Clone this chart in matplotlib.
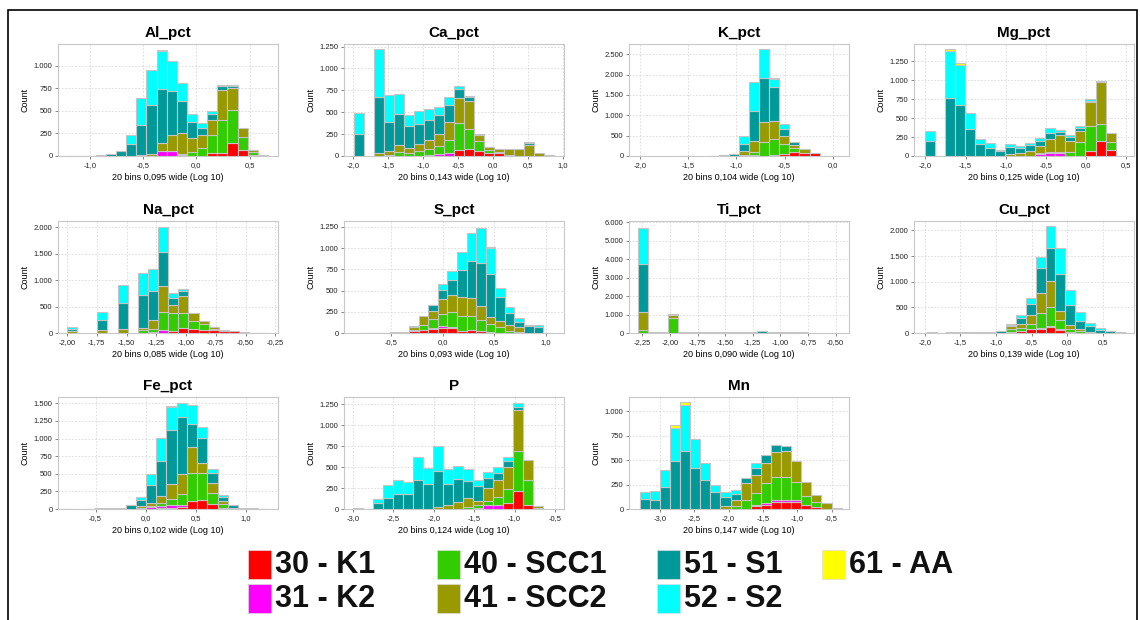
import matplotlib
matplotlib.use("Agg")
import matplotlib.pyplot as plt
from matplotlib.patches import Rectangle
import numpy as np

plt.rcParams["font.family"] = ["Liberation Sans", "DejaVu Sans"]

classes = ["30 - K1", "31 - K2", "40 - SCC1", "41 - SCC2", "51 - S1", "52 - S2", "61 - AA"]
class_keys = ["k1", "k2", "scc1", "scc2", "s1", "s2", "aa"]
class_colors = ["#ff0000", "#ff00ff", "#33cc00", "#999900", "#009999", "#00ffff", "#ffff00"]

panel_names = ["Al_pct", "Ca_pct", "K_pct", "Mg_pct", "Na_pct", "S_pct",
               "Ti_pct", "Cu_pct", "Fe_pct", "P", "Mn"]
bin_start = [-1.228, -1.99, -2.01, -2.008, -2.0, -0.79, -2.289, -1.972, -0.812, -3.0, -3.293]
bin_width = [0.095, 0.143, 0.104, 0.125, 0.085, 0.093, 0.090, 0.139, 0.102, 0.124, 0.147]
width_labels = ["0,095", "0,143", "0,104", "0,125", "0,085", "0,093", "0,090", "0,139", "0,102", "0,124", "0,147"]

x_ticks = [
    [-1.0, -0.5, 0.0, 0.5],
    [-2.0, -1.5, -1.0, -0.5, 0.0, 0.5, 1.0],
    [-2.0, -1.5, -1.0, -0.5, 0.0],
    [-2.0, -1.5, -1.0, -0.5, 0.0, 0.5],
    [-2.0, -1.75, -1.5, -1.25, -1.0, -0.75, -0.5, -0.25],
    [-0.5, 0.0, 0.5, 1.0],
    [-2.25, -2.0, -1.75, -1.5, -1.25, -1.0, -0.75, -0.5],
    [-2.0, -1.5, -1.0, -0.5, 0.0, 0.5],
    [-0.5, 0.0, 0.5, 1.0],
    [-3.0, -2.5, -2.0, -1.5, -1.0, -0.5],
    [-3.0, -2.5, -2.0, -1.5, -1.0, -0.5],
]
x_decimals = [1, 1, 1, 1, 2, 1, 2, 1, 1, 1, 1]
x_limits = [(-1.297, 0.766), (-2.13, 1.02), (-2.111, 0.167), (-2.142, 0.596),
            (-2.076, -0.227), (-0.956, 1.179), (-2.371, -0.379), (-2.150, 0.937),
            (-0.876, 1.322), (-3.112, -0.388), (-3.449, -0.246)]
y_max = [1240, 1280, 2750, 1480, 2115, 1320, 6080, 2185, 1590, 1335, 1145]
y_step = [250, 250, 500, 250, 500, 250, 1000, 500, 250, 250, 250]

al_counts = {
    "k1":   [0, 0, 0, 0, 0, 0, 0, 0, 0, 0, 0, 0, 0, 0, 30, 30, 145, 65, 15, 0],
    "k2":   [0, 0, 0, 0, 0, 0, 0, 0, 5, 50, 55, 15, 0, 0, 0, 0, 0, 0, 0, 0],
    "scc1": [0, 0, 0, 0, 0, 0, 0, 0, 0, 0, 5, 10, 45, 90, 200, 370, 365, 150, 25, 0],
    "scc2": [0, 0, 0, 0, 0, 0, 0, 10, 20, 95, 175, 230, 150, 140, 165, 330, 240, 100, 25, 8],
    "s1":   [3, 3, 5, 8, 18, 50, 130, 330, 540, 600, 490, 350, 185, 75, 75, 40, 30, 0, 0, 0],
    "s2":   [0, 0, 0, 0, 0, 5, 100, 300, 390, 415, 325, 200, 85, 65, 30, 20, 5, 0, 0, 0],
    "aa":   [0, 0, 0, 0, 0, 0, 0, 0, 0, 15, 0, 0, 0, 0, 0, 0, 0, 0, 0, 0],
}
ca_counts = {
    "k1":   [0, 0, 0, 0, 0, 0, 0, 0, 0, 5, 65, 85, 55, 35, 40, 10, 0, 0, 0, 0],
    "k2":   [0, 0, 0, 0, 0, 0, 0, 10, 25, 30, 0, 0, 0, 0, 0, 0, 0, 0, 0, 0],
    "scc1": [0, 0, 0, 15, 50, 35, 55, 65, 95, 150, 315, 225, 115, 30, 10, 0, 0, 0, 0, 0],
    "scc2": [0, 0, 35, 45, 80, 60, 80, 110, 130, 200, 280, 320, 75, 35, 25, 70, 85, 125, 40, 10],
    "s1":   [250, 0, 640, 330, 355, 250, 230, 230, 215, 195, 110, 50, 5, 5, 0, 0, 0, 20, 0, 0],
    "s2":   [240, 0, 550, 310, 225, 125, 145, 120, 95, 95, 35, 5, 0, 0, 0, 0, 0, 10, 0, 0],
    "aa":   [0, 0, 0, 0, 0, 0, 0, 0, 0, 0, 0, 0, 0, 0, 0, 0, 0, 0, 0, 0],
}
k_counts = {
    "k1":   [0, 0, 0, 0, 0, 0, 0, 0, 0, 0, 0, 0, 0, 20, 40, 100, 70, 80, 10, 5],
    "k2":   [0, 0, 0, 0, 0, 0, 0, 0, 0, 0, 0, 30, 0, 0, 0, 0, 0, 0, 0, 0],
    "scc1": [0, 0, 0, 0, 0, 0, 0, 0, 0, 0, 30, 65, 355, 395, 250, 85, 0, 0, 0, 0],
    "scc2": [0, 0, 0, 0, 0, 0, 0, 0, 0, 0, 90, 265, 475, 455, 210, 85, 110, 0, 0, 0],
    "s1":   [0, 0, 0, 0, 5, 0, 0, 5, 15, 40, 185, 745, 1080, 830, 165, 70, 0, 0, 0, 0],
    "s2":   [0, 0, 0, 0, 0, 0, 0, 0, 0, 0, 190, 720, 720, 180, 115, 15, 0, 0, 0, 0],
    "aa":   [0, 0, 0, 0, 0, 0, 0, 0, 0, 0, 0, 0, 0, 30, 0, 0, 0, 0, 0, 0],
}
mg_counts = {
    "k1":   [0, 0, 0, 0, 0, 0, 0, 0, 0, 0, 0, 0, 0, 0, 0, 0, 67, 200, 76, 0],
    "k2":   [0, 0, 0, 0, 0, 0, 0, 0, 0, 0, 0, 20, 40, 35, 0, 0, 0, 0, 0, 0],
    "scc1": [0, 0, 0, 0, 0, 0, 0, 0, 0, 0, 0, 25, 15, 15, 55, 187, 335, 224, 103, 0],
    "scc2": [0, 0, 0, 0, 0, 0, 0, 0, 30, 35, 65, 90, 170, 232, 145, 148, 312, 560, 125, 5],
    "s1":   [200, 0, 768, 670, 357, 156, 110, 67, 85, 75, 75, 65, 75, 35, 55, 30, 10, 10, 0, 0],
    "s2":   [135, 0, 616, 535, 214, 67, 60, 13, 45, 25, 35, 40, 65, 30, 20, 37, 26, 0, 0, 0],
    "aa":   [0, 0, 30, 20, 0, 0, 0, 0, 0, 0, 0, 0, 0, 0, 0, 0, 0, 0, 0, 0],
}
na_counts = {
    "k1":   [0, 0, 0, 0, 0, 0, 0, 0, 0, 5, 40, 95, 80, 60, 50, 45, 40, 10, 5, 3],
    "k2":   [0, 0, 0, 0, 0, 0, 0, 0, 10, 50, 0, 0, 0, 0, 0, 0, 0, 0, 0, 0],
    "scc1": [0, 0, 0, 0, 0, 0, 0, 50, 70, 335, 340, 290, 150, 105, 30, 0, 0, 0, 0, 0],
    "scc2": [40, 0, 0, 50, 0, 80, 0, 50, 160, 490, 150, 305, 140, 65, 35, 5, 0, 0, 0, 0],
    "s1":   [40, 0, 0, 190, 0, 480, 0, 610, 555, 650, 130, 95, 0, 0, 0, 0, 0, 0, 0, 0],
    "s2":   [35, 0, 0, 150, 0, 340, 0, 430, 420, 470, 95, 45, 0, 0, 0, 0, 0, 0, 0, 0],
    "aa":   [0, 0, 0, 0, 0, 0, 0, 0, 0, 0, 0, 0, 0, 0, 0, 0, 0, 0, 0, 0],
}
s_counts = {
    "k1":   [0, 0, 0, 0, 0, 20, 35, 45, 60, 55, 20, 35, 20, 15, 5, 0, 0, 0, 0, 0],
    "k2":   [0, 0, 0, 0, 0, 0, 5, 15, 20, 20, 0, 5, 5, 0, 0, 0, 0, 0, 0, 0],
    "scc1": [0, 0, 0, 0, 0, 10, 50, 100, 145, 170, 180, 160, 130, 90, 60, 20, 10, 0, 0, 0],
    "scc2": [0, 0, 0, 0, 0, 40, 105, 100, 175, 200, 226, 210, 160, 87, 80, 80, 55, 0, 0, 0],
    "s1":   [3, 3, 5, 8, 15, 10, 0, 65, 110, 185, 322, 435, 515, 505, 280, 130, 68, 80, 70, 5],
    "s2":   [0, 0, 0, 0, 0, 0, 0, 10, 65, 105, 202, 338, 410, 300, 100, 80, 47, 10, 30, 0],
    "aa":   [0, 0, 0, 0, 0, 0, 0, 0, 0, 0, 0, 0, 0, 15, 0, 0, 0, 0, 0, 0],
}
ti_counts = {
    "k1":   [0, 0, 0, 0, 0, 0, 0, 0, 0, 0, 0, 0, 0, 0, 0, 0, 0, 0, 0, 0],
    "k2":   [0, 0, 0, 0, 0, 0, 0, 0, 0, 0, 0, 0, 0, 0, 0, 0, 0, 0, 0, 0],
    "scc1": [180, 0, 0, 820, 0, 0, 0, 0, 0, 0, 0, 0, 0, 0, 0, 0, 0, 0, 0, 0],
    "scc2": [950, 0, 0, 180, 50, 0, 0, 0, 0, 0, 0, 0, 0, 0, 0, 0, 0, 0, 0, 0],
    "s1":   [2610, 60, 80, 30, 0, 50, 80, 60, 40, 80, 40, 60, 100, 60, 60, 40, 30, 0, 0, 0],
    "s2":   [1950, 0, 0, 0, 0, 0, 0, 0, 0, 0, 0, 0, 0, 0, 0, 0, 0, 0, 0, 0],
    "aa":   [30, 0, 0, 0, 0, 0, 0, 0, 0, 0, 0, 0, 0, 0, 0, 0, 0, 0, 0, 0],
}
cu_counts = {
    "k1":   [0, 0, 0, 0, 0, 0, 0, 0, 25, 45, 70, 80, 110, 60, 20, 0, 0, 0, 0, 0],
    "k2":   [0, 0, 0, 0, 0, 0, 0, 0, 0, 0, 5, 15, 30, 15, 0, 0, 0, 0, 0, 0],
    "scc1": [0, 0, 0, 0, 0, 0, 0, 0, 50, 60, 100, 295, 370, 170, 60, 30, 10, 0, 0, 0],
    "scc2": [0, 0, 0, 0, 0, 0, 0, 0, 55, 80, 185, 395, 505, 190, 80, 45, 10, 0, 0, 0],
    "s1":   [15, 0, 10, 10, 15, 25, 25, 40, 35, 115, 215, 490, 645, 710, 380, 165, 110, 65, 40, 20],
    "s2":   [0, 0, 0, 0, 0, 0, 0, 0, 20, 60, 115, 200, 425, 510, 290, 165, 65, 35, 0, 0],
    "aa":   [0, 0, 0, 0, 0, 0, 0, 0, 0, 0, 0, 0, 0, 0, 0, 0, 0, 0, 0, 0],
}
fe_counts = {
    "k1":   [0, 0, 0, 0, 0, 0, 0, 0, 5, 10, 15, 35, 120, 130, 65, 10, 0, 0, 0, 0],
    "k2":   [0, 0, 0, 0, 0, 0, 0, 0, 25, 30, 35, 15, 0, 0, 0, 0, 0, 0, 0, 0],
    "scc1": [0, 0, 0, 0, 0, 0, 0, 15, 15, 40, 85, 170, 385, 375, 165, 55, 15, 0, 0, 0],
    "scc2": [0, 0, 0, 0, 0, 0, 0, 30, 45, 105, 215, 270, 370, 145, 135, 50, 0, 0, 0, 0],
    "s1":   [5, 0, 5, 10, 15, 20, 50, 85, 255, 495, 765, 810, 335, 355, 150, 50, 40, 15, 10, 5],
    "s2":   [0, 0, 0, 0, 0, 0, 5, 35, 145, 330, 340, 200, 270, 155, 55, 35, 5, 0, 0, 0],
    "aa":   [0, 0, 0, 0, 0, 0, 0, 0, 0, 0, 10, 5, 0, 0, 0, 0, 0, 0, 0, 0],
}
p_counts = {
    "k1":   [0, 0, 0, 0, 0, 0, 0, 0, 0, 0, 0, 0, 0, 0, 5, 70, 215, 50, 0, 0],
    "k2":   [0, 0, 0, 0, 0, 0, 0, 0, 0, 0, 0, 0, 15, 50, 40, 0, 0, 0, 0, 0],
    "scc1": [0, 0, 0, 0, 0, 0, 0, 0, 0, 0, 5, 25, 35, 50, 100, 170, 480, 290, 10, 0],
    "scc2": [0, 0, 0, 0, 0, 0, 0, 0, 28, 45, 75, 105, 50, 155, 195, 255, 490, 250, 25, 0],
    "s1":   [10, 0, 68, 133, 181, 181, 341, 293, 422, 255, 280, 200, 170, 110, 90, 80, 30, 0, 0, 0],
    "s2":   [0, 0, 55, 148, 168, 140, 273, 197, 301, 175, 150, 150, 80, 75, 65, 40, 50, 0, 0, 0],
    "aa":   [0, 0, 0, 0, 0, 0, 0, 0, 0, 0, 0, 0, 0, 0, 0, 0, 0, 0, 0, 0],
}
mn_counts = {
    "k1":   [0, 0, 0, 0, 0, 0, 0, 0, 0, 0, 0, 30, 45, 69, 70, 69, 40, 20, 5, 0],
    "k2":   [0, 0, 0, 0, 0, 0, 0, 0, 0, 0, 0, 12, 14, 18, 17, 24, 5, 0, 0, 0],
    "scc1": [0, 0, 0, 0, 0, 0, 0, 0, 0, 35, 87, 121, 207, 242, 242, 184, 86, 56, 0, 0],
    "scc2": [0, 0, 0, 0, 0, 0, 0, 0, 35, 58, 179, 183, 201, 249, 259, 214, 149, 69, 55, 15],
    "s1":   [104, 93, 225, 495, 588, 415, 301, 173, 86, 63, 52, 69, 87, 79, 52, 0, 0, 0, 0, 0],
    "s2":   [70, 87, 173, 335, 478, 301, 173, 76, 52, 41, 0, 52, 0, 0, 0, 0, 0, 0, 0, 0],
    "aa":   [0, 0, 0, 25, 24, 0, 0, 0, 0, 0, 0, 0, 0, 0, 0, 0, 0, 0, 0, 0],
}
panel_counts = [al_counts, ca_counts, k_counts, mg_counts, na_counts, s_counts,
                ti_counts, cu_counts, fe_counts, p_counts, mn_counts]

W, H = 1140, 620
col_left = [58, 344, 629, 914]
row_top = [44, 221, 397]
ax_w, ax_h = 220, 112

fig = plt.figure(figsize=(W / 100, H / 100), dpi=100)
fig.patch.set_facecolor("white")


def y_fmt(v, _):
    return f"{int(round(v)):,}".replace(",", ".")


for i, name in enumerate(panel_names):
    r, c = divmod(i, 4)
    left = col_left[c] / W
    bottom = 1 - (row_top[r] + ax_h) / H
    ax = fig.add_axes([left, bottom, ax_w / W, ax_h / H])

    counts = panel_counts[i]
    edges = bin_start[i] + bin_width[i] * np.arange(20)
    base = np.zeros(20)
    for key, color in zip(class_keys, class_colors):
        vals = np.array(counts[key], dtype=float)
        m = vals > 0
        ax.bar(edges[m], vals[m], width=bin_width[i], bottom=base[m], align="edge",
               color=color, edgecolor="#c4c4c4", linewidth=0.8, zorder=3)
        base += vals

    ax.set_xlim(x_limits[i])
    ax.set_ylim(0, y_max[i])
    ax.set_yticks(np.arange(0, y_max[i] + 1, y_step[i]))
    ax.yaxis.set_major_formatter(plt.FuncFormatter(y_fmt))
    ax.set_xticks(x_ticks[i])
    d = x_decimals[i]
    ax.set_xticklabels([f"{v:.{d}f}".replace(".", ",") for v in x_ticks[i]])

    ax.tick_params(labelsize=5.5, colors="#555555", length=2, width=0.5, pad=2)
    for lab in ax.get_xticklabels() + ax.get_yticklabels():
        lab.set_color("#222222")
    ax.grid(True, linestyle=(0, (2, 2)), color="#d8d8d8", linewidth=0.6, zorder=0)
    for sp in ax.spines.values():
        sp.set_color("#c8c8c8")
        sp.set_linewidth(0.8)

    ax.set_title(name, fontsize=11, fontweight="bold", pad=5)
    ax.set_ylabel("Count", fontsize=6.5, labelpad=3)
    ax.set_xlabel(f"20 bins {width_labels[i]} wide (Log 10)", fontsize=6.5, labelpad=3)

# legend, laid out like the source image
leg_x = [248, 437, 657, 822, 248, 437, 657]
leg_y = [550, 550, 550, 550, 584, 584, 584]
leg_order = [0, 2, 4, 6, 1, 3, 5]
for x0, y0, k in zip(leg_x, leg_y, leg_order):
    fig.add_artist(Rectangle((x0 / W, 1 - (y0 + 29) / H), 23 / W, 29 / H,
                             transform=fig.transFigure, facecolor=class_colors[k],
                             edgecolor="#dddddd", linewidth=0.5))
    fig.text((x0 + 27) / W, 1 - (y0 + 15) / H, classes[k], fontsize=22,
             fontweight="bold", va="center", ha="left", color="#111111")

# outer frame
fig.add_artist(Rectangle((8 / W, -0.01), 1129 / W, 1 - 10 / H + 0.01,
                         transform=fig.transFigure, fill=False,
                         edgecolor="black", linewidth=1.2))

fig.savefig("out.png", dpi=100)
